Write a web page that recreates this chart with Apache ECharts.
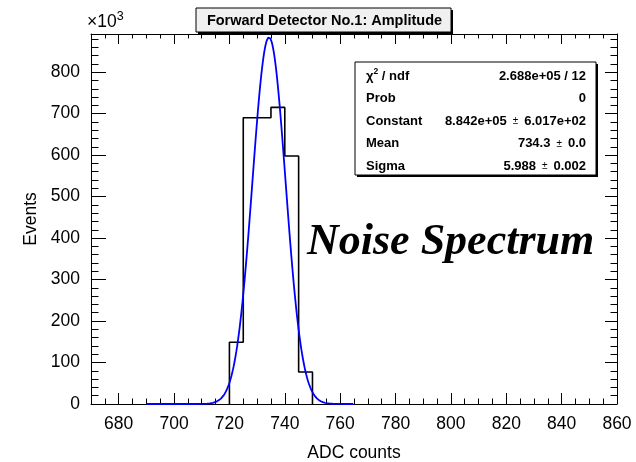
<!DOCTYPE html>
<html>
<head>
<meta charset="utf-8">
<script src="https://cdn.jsdelivr.net/npm/echarts@6/dist/echarts.min.js"></script>
<style>
  html, body { margin: 0; padding: 0; background: #fff; }
  #chart { width: 636px; height: 462px; }
</style>
</head>
<body>
<div id="chart"></div>
<script>
// ADC histogram (bin edges in ADC counts, contents in units of 10^3 events)
const binEdges  = [720, 725, 730, 735, 740, 745, 750];
const binCounts = [149, 690, 690, 715, 598, 77];

// Gaussian fit result (Constant in units of 10^3 events)
const fitConstant = 884.2;
const fitMean = 734.3;
const fitSigma = 5.988;
const fitRange = [690, 765];

// Axis tick values
const xMajorTicks = [680, 700, 720, 740, 760, 780, 800, 820, 840, 860];
const yMajorTicks = [0, 100, 200, 300, 400, 500, 600, 700, 800];
const xRange = [670, 860];
const yRange = [0, 892];

// Fit statistics panel
const statNames  = ['χ{sup|2} / ndf', 'Prob', 'Constant', 'Mean', 'Sigma'];
const statValues = ['2.688e+05 / 12', '0', '8.842e+05{pm|±}6.017e+02', '734.3{pm|±}0.0', '5.988{pm|±}0.002'];

const titleText = 'Forward Detector No.1: Amplitude';
const overlayText = 'Noise Spectrum';

// minor ticks every 5 ADC counts, every 20 events (x10^3)
const xMinorTicks = [];
for (let v = 675; v <= 860; v += 5) if (xMajorTicks.indexOf(v) < 0) xMinorTicks.push(v);
const yMinorTicks = [];
for (let v = 20; v <= 880; v += 20) if (yMajorTicks.indexOf(v) < 0) yMinorTicks.push(v);

// histogram outline as a stepped polyline
const histOutline = [[binEdges[0], 0]];
binCounts.forEach((c, i) => {
  histOutline.push([binEdges[i], c]);
  histOutline.push([binEdges[i + 1], c]);
});
histOutline.push([binEdges[binEdges.length - 1], 0]);

// fitted Gaussian evaluated across the fit range
const fitCurve = [];
for (let x = fitRange[0]; x <= fitRange[1] + 1e-9; x += 0.25) {
  const t = (x - fitMean) / fitSigma;
  fitCurve.push([x, fitConstant * Math.exp(-0.5 * t * t)]);
}

const FONT = '"Liberation Sans", Arial, Helvetica, sans-serif';
const tickStyle = { color: '#000', width: 1 };

function xAxisDef(pos, ticks, len, withLabels, withLine) {
  return {
    type: 'value', position: pos, min: xRange[0], max: xRange[1],
    axisLine: { show: withLine, onZero: false, lineStyle: { color: '#000', width: 1 } },
    axisTick: { show: true, inside: true, length: len, customValues: ticks, lineStyle: tickStyle },
    axisLabel: withLabels
      ? { show: true, customValues: ticks, fontSize: 17.5, color: '#000', fontFamily: FONT, margin: 11 }
      : { show: false },
    splitLine: { show: false }
  };
}
function yAxisDef(pos, ticks, len, withLabels, withLine) {
  return {
    type: 'value', position: pos, min: yRange[0], max: yRange[1],
    axisLine: { show: withLine, onZero: false, lineStyle: { color: '#000', width: 1 } },
    axisTick: { show: true, inside: true, length: len, customValues: ticks, lineStyle: tickStyle },
    axisLabel: withLabels
      ? { show: true, customValues: ticks, fontSize: 17.5, color: '#000', fontFamily: FONT, margin: 11 }
      : { show: false },
    splitLine: { show: false }
  };
}

const xAxes = [
  Object.assign(xAxisDef('bottom', xMajorTicks, 11, true, true), {
    name: 'ADC counts', nameLocation: 'middle', nameGap: 40,
    nameTextStyle: { fontSize: 17.5, color: '#000', fontFamily: FONT }
  }),
  xAxisDef('bottom', xMinorTicks, 5.5, false, false),
  xAxisDef('top', xMajorTicks, 10, false, true),
  xAxisDef('top', xMinorTicks, 4.5, false, false)
];
const yAxes = [
  Object.assign(yAxisDef('left', yMajorTicks, 15, true, true), {
    name: 'Events', nameLocation: 'middle', nameGap: 47, nameRotate: 90,
    nameTextStyle: { fontSize: 17.5, color: '#000', fontFamily: FONT }
  }),
  yAxisDef('left', yMinorTicks, 7.5, false, false),
  yAxisDef('right', yMajorTicks, 12, false, true),
  yAxisDef('right', yMinorTicks, 6.5, false, false)
];

// stats panel geometry
const sb = { x: 355, y: 62, w: 241, h: 113 };
const rowH = 22.6;
const statElements = [];
statNames.forEach((n, i) => {
  const cy = sb.y + 14 + i * rowH;
  statElements.push({
    type: 'text', x: sb.x + 11, y: cy, z: 12,
    style: {
      text: n, fill: '#000', font: 'bold 13px ' + FONT, verticalAlign: 'middle', align: 'left',
      rich: { sup: { fontSize: 8.5, fontWeight: 'bold', fontFamily: FONT, verticalAlign: 'top', padding: [0, 0, 8, 0] } }
    }
  });
  statElements.push({
    type: 'text', x: sb.x + sb.w - 10, y: cy, z: 12,
    style: {
      text: statValues[i], fill: '#000', font: 'bold 13px ' + FONT, verticalAlign: 'middle', align: 'right',
      rich: { pm: { fontSize: 10, fontWeight: 'normal', fontFamily: FONT, padding: [0, 6, 0, 6] } }
    }
  });
});

const tb = { x: 196, y: 8, w: 255, h: 24 };

const option = {
  animation: false,
  backgroundColor: '#fff',
  grid: { left: 91, right: 19, top: 34, bottom: 58, containLabel: false, outerBoundsMode: 'none' },
  xAxis: xAxes,
  yAxis: yAxes,
  series: [
    {
      type: 'line', xAxisIndex: 0, yAxisIndex: 0, data: histOutline,
      showSymbol: false, symbol: 'none', silent: true,
      lineStyle: { color: '#000', width: 1.6 }, z: 3
    },
    {
      type: 'line', xAxisIndex: 0, yAxisIndex: 0, data: fitCurve,
      showSymbol: false, symbol: 'none', smooth: false, silent: true,
      lineStyle: { color: '#0000ff', width: 1.8 }, z: 4
    }
  ],
  graphic: [
    // exponent marker for the y axis
    {
      type: 'text', x: 87, y: 22, z: 10,
      style: {
        text: '×10{sup|3}', fill: '#000', font: '17.5px ' + FONT, verticalAlign: 'middle',
        rich: { sup: { fontSize: 12.5, fontFamily: FONT, verticalAlign: 'top', padding: [0, 0, 10, 0] } }
      }
    },
    // title box with shadow
    { type: 'rect', shape: { x: tb.x + 2, y: tb.y + 2, width: tb.w, height: tb.h }, style: { fill: '#000' }, z: 10 },
    { type: 'rect', shape: { x: tb.x, y: tb.y, width: tb.w, height: tb.h }, style: { fill: '#f0f0f0', stroke: '#000', lineWidth: 1 }, z: 11 },
    {
      type: 'text', x: tb.x + tb.w / 2 + 1, y: tb.y + tb.h / 2 + 1, z: 12,
      style: { text: titleText, fill: '#000', font: 'bold 14.5px ' + FONT, align: 'center', verticalAlign: 'middle' }
    },
    // fit statistics box with shadow
    { type: 'rect', shape: { x: sb.x + 2, y: sb.y + 2, width: sb.w, height: sb.h }, style: { fill: '#000' }, z: 10 },
    { type: 'rect', shape: { x: sb.x, y: sb.y, width: sb.w, height: sb.h }, style: { fill: '#fff', stroke: '#000', lineWidth: 1 }, z: 11 },
    ...statElements,
    // large annotation
    {
      type: 'text', x: 307, y: 243, z: 12,
      style: { text: overlayText, fill: '#000', font: 'italic bold 44px "Liberation Serif", "Times New Roman", serif', verticalAlign: 'middle', align: 'left' }
    }
  ]
};

const chart = echarts.init(document.getElementById('chart'), null, { renderer: 'canvas' });
chart.setOption(option);
</script>
</body>
</html>
